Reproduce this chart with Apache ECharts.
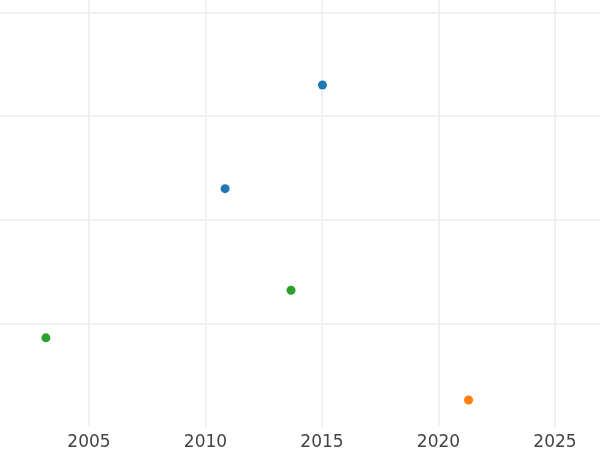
<!DOCTYPE html>
<html>
<head>
<meta charset="utf-8">
<script src="https://cdn.jsdelivr.net/npm/echarts@6/dist/echarts.min.js"></script>
<style>html,body{margin:0;padding:0;background:#fff}#c{width:600px;height:450px}</style>
</head>
<body>
<div id="c"></div>
<script>
var xTicks = [2000, 2005, 2010, 2015, 2020, 2025, 2030];
var blueSeries = [[2015.02, 3.30], [2010.84, 2.30]];
var orangeSeries = [[2021.29, 0.26]];
var greenSeries = [[2013.67, 1.32], [2003.15, 0.86]];
var colors = ['#1f77b4', '#ff7f0e', '#2ca02c'];

var chart = echarts.init(document.getElementById('c'));
chart.setOption({
  animation: false,
  backgroundColor: '#fff',
  grid: { left: -27.5, right: -71.5, top: 0, bottom: 23, containLabel: false, outerBoundsMode: 'none' },
  xAxis: {
    type: 'value', min: xTicks[0], max: xTicks[xTicks.length - 1], interval: 5,
    axisLine: { show: false }, axisTick: { show: false },
    axisLabel: { color: '#444', fontSize: 17, fontFamily: 'DejaVu Sans', margin: 7,
      formatter: function (v) { return String(v); } },
    splitLine: { show: true, lineStyle: { color: '#ebebeb', width: 1.5 } }
  },
  yAxis: {
    type: 'value', min: 0, max: 4.12, interval: 1,
    axisLine: { show: false }, axisTick: { show: false }, axisLabel: { show: false },
    splitLine: { show: true, showMinLine: false, showMaxLine: false, lineStyle: { color: '#ebebeb', width: 1.5 } }
  },
  series: [
    { type: 'scatter', data: blueSeries, symbolSize: 9, itemStyle: { color: colors[0], opacity: 1 } },
    { type: 'scatter', data: orangeSeries, symbolSize: 9, itemStyle: { color: colors[1], opacity: 1 } },
    { type: 'scatter', data: greenSeries, symbolSize: 9, itemStyle: { color: colors[2], opacity: 1 } }
  ]
});
</script>
</body>
</html>
